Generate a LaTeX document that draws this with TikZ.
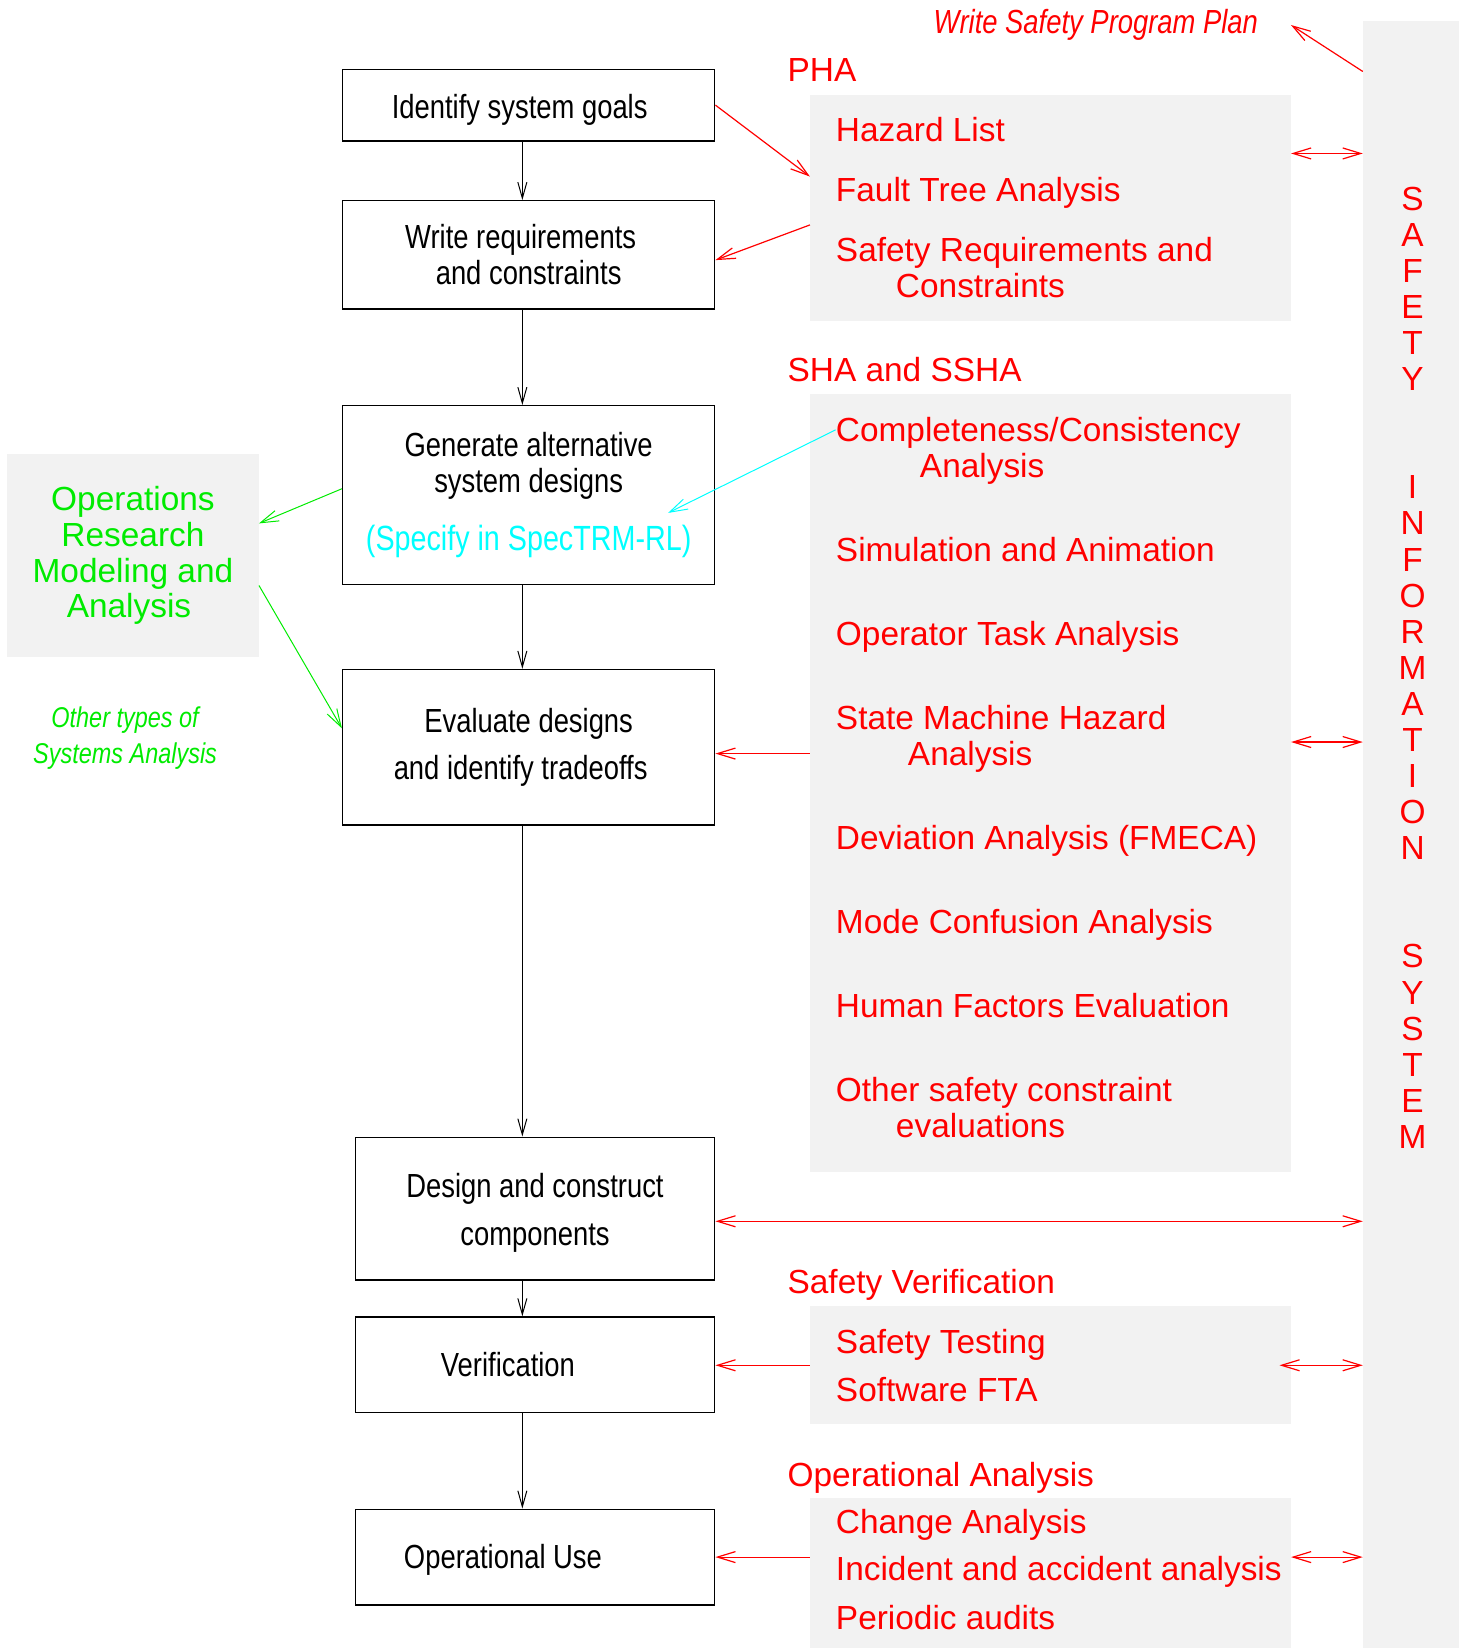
\documentclass[tikz,border=0pt]{standalone}
\usepackage{fontspec}
\usetikzlibrary{arrows.meta,calc}
\setmainfont{Liberation Sans}
\newfontfamily\narrowsf[FakeStretch=0.82]{Liberation Sans}
\definecolor{panelgray}{RGB}{242,242,242}
\definecolor{oprgreen}{RGB}{0,235,0}
\definecolor{speccyan}{RGB}{0,255,255}
\newcommand\px{0.5254pt}

\tikzset{
  stepbox/.style={draw, line width=0.7pt, inner sep=0pt, align=center,
    font=\narrowsf\fontsize{16.7}{17.9}\selectfont},
  panel/.style={fill=panelgray, inner sep=0pt},
  heading/.style={anchor=base west, inner sep=0pt, text=red,
    font=\fontsize{16.7}{17.9}\selectfont},
  item/.style={heading, align=left},
  letter/.style={anchor=base, inner sep=0pt, text=red,
    font=\fontsize{16.7}{17.9}\selectfont},
  flow/.style={line width=0.5pt, -{Straight Barb[length=8pt,width=4.5pt]}},
  feed/.style={red, line width=0.6pt, -{Straight Barb[length=9pt,width=5.5pt]}},
  feedboth/.style={red, line width=0.6pt,
    {Straight Barb[length=9pt,width=5.5pt]}-{Straight Barb[length=9pt,width=5.5pt]}},
  orlink/.style={oprgreen, line width=0.5pt, -{Straight Barb[length=9pt,width=5.5pt]}},
}

\begin{document}
\begin{tikzpicture}[x=0.5254pt,y=-0.5254pt]
  \useasboundingbox (0,0) rectangle (1395,1568);

  % grey panels
  \node[panel, minimum width=457*\px, minimum height=215*\px] (pha) at (999.5,197.5) {};
  \node[panel, minimum width=457*\px, minimum height=740*\px] (sha) at (999.5,745) {};
  \node[panel, minimum width=457*\px, minimum height=112*\px] (sver) at (999.5,1299) {};
  \node[panel, minimum width=457*\px, minimum height=143*\px] (opan) at (999.5,1496.5) {};
  \node[panel, minimum width=91*\px, minimum height=1548*\px] (sis) at (1342.5,794) {};
  \node[panel, minimum width=239*\px, minimum height=193*\px, align=center, text=oprgreen,
    font=\fontsize{16.7}{17.9}\selectfont] (orm) at (126.5,528.5)
    {Operations\\Research\\Modeling and\\Analysis\hspace*{4pt}};

  % process steps
  \node[stepbox, minimum width=354*\px, minimum height=68*\px] (goals) at (503,100)
    {\rule{0pt}{16.4pt}Identify system goals\hspace*{9pt}};
  \node[stepbox, minimum width=354*\px, minimum height=103*\px] (reqs) at (503,242.5)
    {Write requirements\hspace*{8pt}\\and constraints};
  \node[stepbox, minimum width=354*\px, minimum height=170*\px] (gen) at (503,471)
    {Generate alternative\\system designs\\[11pt]{\color{speccyan}\fontsize{17.5}{18}\selectfont(Specify in SpecTRM-RL)}};
  \node[stepbox, minimum width=354*\px, minimum height=148*\px] (eval) at (503,711)
    {Evaluate designs\\[5.8pt]and identify tradeoffs\hspace*{8pt}};
  \node[stepbox, minimum width=342*\px, minimum height=136*\px] (build) at (509,1150)
    {\rule{0pt}{16pt}Design and construct\\[6.3pt]components};
  \node[stepbox, minimum width=342*\px, minimum height=91*\px] (verif) at (509,1298.5)
    {Verification\hspace*{27pt}};
  \node[stepbox, minimum width=342*\px, minimum height=91*\px] (opuse) at (509,1481.5)
    {\rule{0pt}{15pt}Operational Use\hspace*{32pt}};

  % headings and analyses
  \node[heading, font=\narrowsf\itshape\fontsize{16.7}{17.9}\selectfont] (plan) at (888,32)
    {Write Safety Program Plan};
  \node[heading] (phahead) at (749,78) {PHA};
  \node[item] (hazard) at (795,135) {Hazard List};
  \node[item] (fta) at (795,192) {Fault Tree Analysis};
  \node[item] (sreq) at (795,283) {Safety Requirements and\\\hspace*{30pt}Constraints};
  \node[heading] (shahead) at (749,363) {SHA and SSHA};
  \node[item] (cca) at (795,454) {Completeness/Consistency\\\hspace*{42pt}Analysis};
  \node[item] (sim) at (795,534) {Simulation and Animation};
  \node[item] (ota) at (795,614) {Operator Task Analysis};
  \node[item] (smh) at (795,728) {State Machine Hazard\\\hspace*{36pt}Analysis};
  \node[item] (fmeca) at (795,808) {Deviation Analysis (FMECA)};
  \node[item] (mode) at (795,888) {Mode Confusion Analysis};
  \node[item] (hfe) at (795,968) {Human Factors Evaluation};
  \node[item] (other) at (795,1082) {Other safety constraint\\\hspace*{30pt}evaluations};
  \node[heading] (sverhead) at (749,1231) {Safety Verification};
  \node[item] (stest) at (795,1288) {Safety Testing};
  \node[item] (sfta) at (795,1333) {Software FTA};
  \node[heading] (opanhead) at (749,1414) {Operational Analysis};
  \node[item] (change) at (795,1459) {Change Analysis};
  \node[item] (incident) at (795,1504) {Incident and accident analysis};
  \node[item] (audits) at (795,1550) {Periodic audits};
  \node[align=center, inner sep=0pt, text=oprgreen,
    font=\narrowsf\itshape\fontsize{14.3}{17.9}\selectfont] (othersys) at (119,702)
    {Other types of\\Systems Analysis};

  % vertical lettering
  \foreach \ch/\row in {S/0,A/1,F/2,E/3,T/4,Y/5,I/8,N/9,F/10,O/11,R/12,M/13,A/14,T/15,
      I/16,O/17,N/18,S/21,Y/22,S/23,T/24,E/25,M/26}
    \node[letter] (sis-\row) at (1344,{200+34.33*\row}) {\ch};

  % main flow
  \coordinate (spine) at (497,0);
  \draw[flow] (spine |- goals.south) -- (spine |- reqs.north);
  \draw[flow] (spine |- reqs.south) -- (spine |- gen.north);
  \draw[flow] (spine |- gen.south) -- (spine |- eval.north);
  \draw[flow] (spine |- eval.south) -- (spine |- build.north);
  \draw[flow] (spine |- build.south) -- (spine |- verif.north);
  \draw[flow] (spine |- verif.south) -- (spine |- opuse.north);

  % safety links
  \draw[feed] (goals.east) -- ($(pha.west)+(0,-29.5)$);
  \draw[feed] ($(pha.west)+(0,16.5)$) -- ($(reqs.east)+(0,5)$);
  \draw[feed] ($(sha.west |- eval.east)+(0,6)$) -- ($(eval.east)+(0,6)$);
  \draw[feed] (sver.west) -- (sver.west -| verif.east);
  \draw[feed] (opan.west |- opuse.east) -- (opuse.east);
  \draw[feed] ($(sis.west)+(0,-726)$) -- ($(plan.east)+(31,0)$);
  \draw[feedboth] ($(pha.east)+(0,-51.5)$) coordinate (phax) -- (sis.west |- phax);
  \draw[feedboth] ($(sha.east)+(0,-39)$) coordinate (shax) -- (sis.west |- shax);
  \draw[feedboth] ($(build.east)+(0,12)$) coordinate (buildx) -- (sis.west |- buildx);
  \draw[feedboth] ($(sver.east)+(-11,0)$) -- (sis.west |- sver.east);
  \draw[feedboth] (opan.east |- opuse.east) -- (sis.west |- opuse.east);

  % other links
  \draw[speccyan, line width=0.5pt, -{Straight Barb[length=9pt,width=5.5pt]}]
    ($(cca.base west)+(0,-45)$) -- ($(gen.east)+(-45,17)$);
  \draw[orlink] ($(gen.west)+(0,-6)$) -- ($(orm.east)+(0,-30.5)$);
  \draw[orlink] ($(orm.east)+(0,28.5)$) -- ($(eval.west)+(0,-18)$);
\end{tikzpicture}
\end{document}
